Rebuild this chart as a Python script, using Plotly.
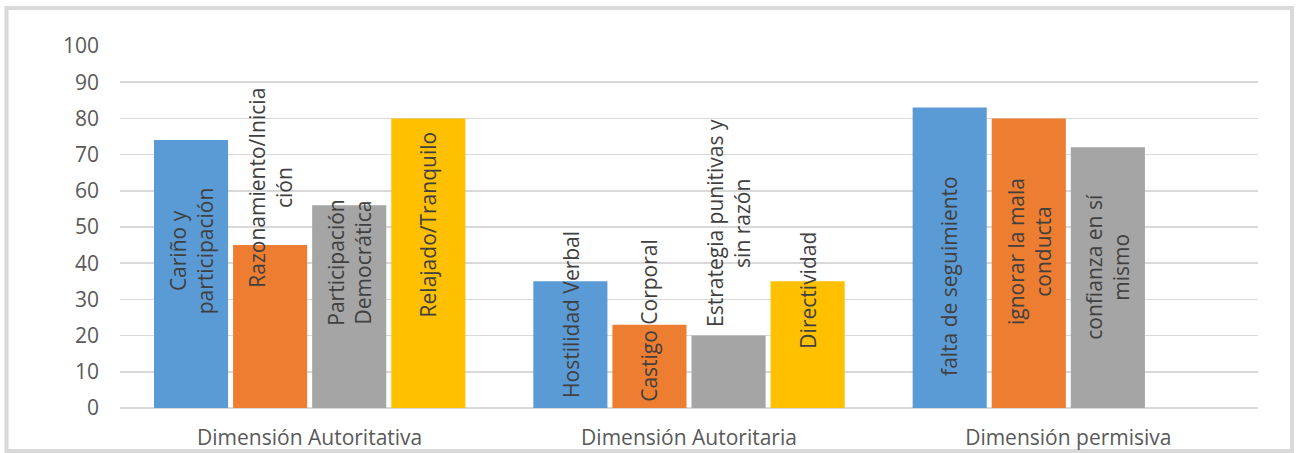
import plotly.graph_objects as go

categories = ["Dimensión Autoritativa", "Dimensión Autoritaria", "Dimensión permisiva"]

serie1_vals = [74, 35, 83]
serie2_vals = [45, 23, 80]
serie3_vals = [56, 20, 72]
serie4_vals = [80, 35, None]

serie1_labels = ["Cariño y<br>participación", "Hostilidad Verbal", "falta de seguimiento"]
serie2_labels = ["Razonamiento/Inicia<br>ción", "Castigo Corporal", "ignorar la mala<br>conducta"]
serie3_labels = ["Participación<br>Democrática", "Estrategia punitivas y<br>sin razón", "confianza en sí<br>mismo"]
serie4_labels = ["Relajado/Tranquilo", "Directividad", None]

y_ticks = [0, 10, 20, 30, 40, 50, 60, 70, 80, 90, 100]

# label anchor heights (layout, in axis units)
label_mid = [
    [43.3, 25.8, 36.4],
    [60.9, 24.2, 43.3],
    [40.2, 51.0, 39.0],
    [50.8, 32.6, None],
]

colors = ["#5B9BD5", "#ED7D31", "#A5A5A5", "#FFC000"]
BARGAP = 0.166
GROUPGAP = 0.063
FONT = "Open Sans"

W, H = 1298, 463
k = H / 453.0
PL, PR = 120, 1258
PT, PB = 45 * k, 408 * k

series = [serie1_vals, serie2_vals, serie3_vals, serie4_vals]
labels = [serie1_labels, serie2_labels, serie3_labels, serie4_labels]
xpos = list(range(len(categories)))

fig = go.Figure()
for j, vals in enumerate(series):
    fig.add_trace(go.Bar(x=xpos, y=vals, marker=dict(color=colors[j], line=dict(width=0)),
                         showlegend=False, hoverinfo="skip"))

n = len(series)
slot = (1 - BARGAP) / n
annotations = []
for j in range(n):
    for i in xpos:
        if labels[j][i] is None:
            continue
        annotations.append(dict(
            x=i + (j - (n - 1) / 2) * slot, y=label_mid[j][i], xref="x", yref="y",
            text=labels[j][i], showarrow=False, textangle=-90,
            font=dict(family=FONT, size=21, color="#404040"),
            align="center",
        ))

pw, ph = PR - PL, PB - PT
fig.update_layout(
    width=W, height=H,
    margin=dict(l=PL, r=W - PR, t=PT, b=H - PB, pad=0),
    paper_bgcolor="white", plot_bgcolor="white",
    barmode="group", bargap=BARGAP, bargroupgap=GROUPGAP,
    annotations=annotations,
    font=dict(family=FONT, color="#595959"),
    hovermode=False,
    shapes=[dict(type="rect", xref="paper", yref="paper",
                 x0=(6.5 - PL) / pw, x1=(1292 - PL) / pw,
                 y0=(PB - 451 * k) / ph, y1=(PB - 7 * k) / ph,
                 line=dict(color="#d9d9d9", width=4), layer="below")],
)
fig.update_xaxes(range=[-0.5, 2.5], tickvals=xpos, ticktext=categories,
                 showgrid=False, zeroline=False, showline=False, ticks="",
                 tickfont=dict(family=FONT, size=21, color="#595959"), ticklabelstandoff=15)
fig.update_yaxes(range=[0, 100], tickvals=y_ticks, showgrid=True, gridcolor="#d9d9d9",
                 gridwidth=1.5, zeroline=True, zerolinecolor="#d9d9d9", zerolinewidth=1.5,
                 showline=False, ticks="", tickfont=dict(family=FONT, size=21, color="#595959"),
                 ticklabelstandoff=20)

post = (
    "var s=document.documentElement.style;s.margin='0';s.padding='0';s.overflow='hidden';"
    "var b=document.body.style;b.margin='0';b.padding='0';b.overflow='hidden';"
)
fig.write_html("out.html", config={"displayModeBar": False, "staticPlot": True}, post_script=post)
